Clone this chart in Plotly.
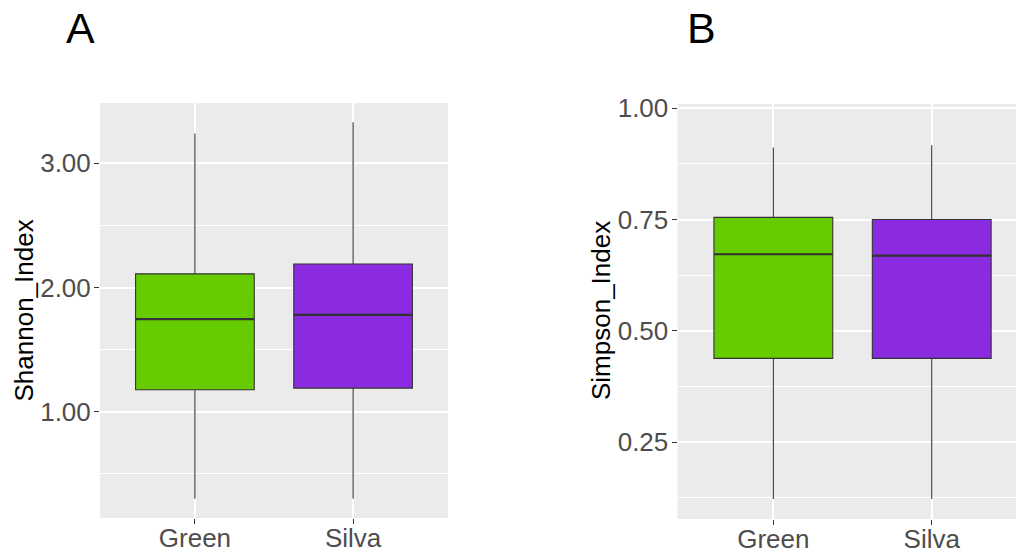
import plotly.graph_objects as go

W, H = 1016, 549

categories = ["Green", "Silva"]
colors = ["#66CC00", "#8A2BE2"]

# Shannon index box stats (panel A)
shannon_lower = [0.30, 0.30]
shannon_q1 = [1.177, 1.19]
shannon_median = [1.745, 1.78]
shannon_q3 = [2.11, 2.19]
shannon_upper = [3.24, 3.33]

# Simpson index box stats (panel B)
simpson_lower = [0.122, 0.122]
simpson_q1 = [0.438, 0.438]
simpson_median = [0.672, 0.669]
simpson_q3 = [0.755, 0.750]
simpson_upper = [0.912, 0.917]

BOX_WIDTH = 0.75
FONT = "Liberation Sans, Arial, sans-serif"

fig = go.Figure()
shapes = []

def add_boxes(lower, q1, med, q3, upper, xa, ya):
    for i, cat in enumerate(categories):
        fig.add_trace(go.Box(
            x=[cat], lowerfence=[lower[i]], q1=[q1[i]], median=[med[i]],
            q3=[q3[i]], upperfence=[upper[i]],
            fillcolor=colors[i], line=dict(color="#333333", width=1.1),
            width=BOX_WIDTH, whiskerwidth=0, boxpoints=False,
            xaxis=xa, yaxis=ya, showlegend=False, hoverinfo="skip",
        ))
        # thicker median line (ggplot fatten)
        shapes.append(dict(type="line", xref=xa, yref=ya,
                           x0=i - BOX_WIDTH / 2, x1=i + BOX_WIDTH / 2,
                           y0=med[i], y1=med[i],
                           line=dict(color="#333333", width=2.2), layer="above"))

add_boxes(shannon_lower, shannon_q1, shannon_median, shannon_q3, shannon_upper, "x", "y")
add_boxes(simpson_lower, simpson_q1, simpson_median, simpson_q3, simpson_upper, "x2", "y2")

common_x = dict(type="category", categoryorder="array", categoryarray=categories,
                showgrid=True, gridcolor="white", gridwidth=1.8,
                ticks="outside", ticklen=5, tickcolor="#333333", tickwidth=1,
                tickfont=dict(family=FONT, size=26, color="#4D4D4D"),
                ticklabelstandoff=-8,
                showline=False, zeroline=False, fixedrange=True, automargin=False)
common_y = dict(showgrid=True, gridcolor="white", gridwidth=1.8,
                ticks="outside", ticklen=5, tickcolor="#333333", tickwidth=1,
                tickfont=dict(family=FONT, size=26, color="#4D4D4D"),
                tickformat=".2f", showline=False, zeroline=False,
                ticklabelstandoff=-2, automargin=False)

fig.update_layout(
    width=W, height=H,
    margin=dict(l=0, r=0, t=0, b=0, pad=0),
    paper_bgcolor="white", plot_bgcolor="#EBEBEB",
    boxmode="overlay",
    shapes=shapes,
    xaxis=dict(domain=[100/W, 448/W], range=[-0.6, 1.6], anchor="y", **common_x),
    yaxis=dict(domain=[1-518/H, 1-103/H], range=[0.144, 3.486], anchor="x",
               tick0=0, dtick=1,
               minor=dict(dtick=0.5, tick0=0, showgrid=True, gridcolor="white", gridwidth=0.9, ticks=""),
               **common_y),
    xaxis2=dict(domain=[677.5/W, 1.0], range=[-0.605, 1.532], anchor="y2", **common_x),
    yaxis2=dict(domain=[1-519/H, 1-104/H], range=[0.077, 1.0097], anchor="x2",
                tick0=0, dtick=0.25,
                minor=dict(dtick=0.125, tick0=0, showgrid=True, gridcolor="white", gridwidth=0.9, ticks=""),
                **common_y),
    annotations=[
        dict(text="Shannon_Index", x=23/W, y=1-310.5/H, xref="paper", yref="paper",
             textangle=-90, showarrow=False, xanchor="center", yanchor="middle",
             font=dict(family=FONT, size=26, color="black")),
        dict(text="Simpson_Index", x=601/W, y=1-311/H, xref="paper", yref="paper",
             textangle=-90, showarrow=False, xanchor="center", yanchor="middle",
             font=dict(family=FONT, size=26, color="black")),
        dict(text="A", x=80.5/W, y=1-28/H, xref="paper", yref="paper",
             showarrow=False, xanchor="center", yanchor="middle",
             font=dict(family=FONT, size=43, color="black")),
        dict(text="B", x=701/W, y=1-28/H, xref="paper", yref="paper",
             showarrow=False, xanchor="center", yanchor="middle",
             font=dict(family=FONT, size=43, color="black")),
    ],
)

fig.write_html("out.html", config={"displayModeBar": False},
               post_script="document.body.style.margin='0';document.body.style.overflow='hidden';")
